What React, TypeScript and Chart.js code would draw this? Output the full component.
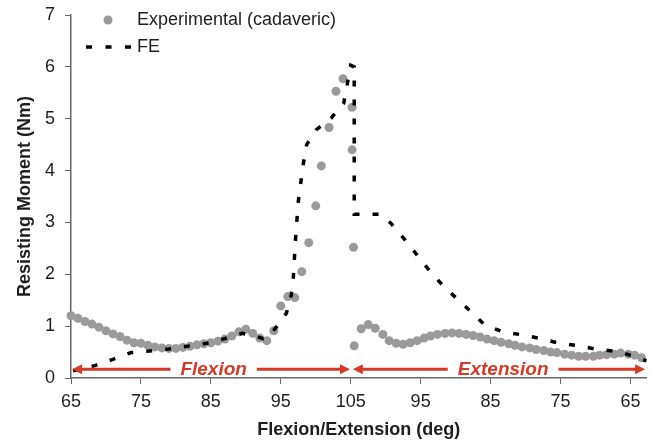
import React, { useEffect, useRef } from "react";
import { Chart, registerables } from "chart.js";

Chart.register(...registerables);

// x is a continuous path position: 0..40 = flexion 65->105 deg, 40..80 = extension 105->65 deg
const expX = [
  0, 1, 2, 3, 4, 5, 6, 7, 8, 9, 10, 11, 12, 13, 14, 15, 16, 17, 18, 19, 20,
  21, 22, 23, 24, 25, 26, 27, 28, 29, 30, 31, 32, 33, 34, 35, 35.8, 36.9, 37.9, 38.9,
  40.2, 40.2, 40.4, 40.5,
  41.5, 42.5, 43.5, 44.6, 45.5, 46.5, 47.5, 48.5, 49.5, 50.5, 51.4, 52.4, 53.5, 54.5,
  55.5, 56.5, 57.5, 58.5, 59.5, 60.5, 61.5, 62.6, 63.5, 64.5, 65.6, 66.5, 67.6, 68.6,
  69.5, 70.6, 71.6, 72.6, 73.6, 74.7, 75.6, 76.6, 77.7, 78.6, 79.7, 80.6, 81.6,
];
const expY = [
  1.2, 1.15, 1.09, 1.04, 0.98, 0.91, 0.85, 0.8, 0.73, 0.68, 0.67, 0.63, 0.6, 0.58, 0.57,
  0.57, 0.59, 0.61, 0.64, 0.66, 0.68, 0.71, 0.75, 0.81, 0.89, 0.94, 0.86, 0.77, 0.72,
  0.91, 1.39, 1.57, 1.55, 2.05, 2.61, 3.32, 4.09, 4.83, 5.53, 5.77,
  5.22, 4.4, 2.52, 0.62,
  0.95, 1.03, 0.96, 0.84, 0.72, 0.67, 0.65, 0.68, 0.72, 0.77, 0.81, 0.84, 0.86, 0.87,
  0.86, 0.84, 0.82, 0.79, 0.75, 0.72, 0.69, 0.66, 0.63, 0.6, 0.58, 0.55, 0.53, 0.5,
  0.49, 0.46, 0.44, 0.42, 0.42, 0.42, 0.44, 0.45, 0.46, 0.48, 0.46, 0.44, 0.39,
];

const feX = [
  0.3, 3.2, 6.0, 8.6, 11.2, 14, 17, 20, 23, 24.5, 26, 27.5, 28.3, 29.4, 30.8, 31.5,
  31.8, 32.1, 32.5, 33.2, 33.7, 35.1, 37.2, 39.0, 39.5, 40.0, 40.5, 40.5, 44.1, 45.7,
  47.8, 49.5, 51.2, 53.2, 55.1, 57.2, 59.2, 61.8, 64.6, 67.5, 69.8, 72.7, 75.3, 78.4, 82.3,
];
const feY = [
  0.14, 0.23, 0.36, 0.49, 0.52, 0.56, 0.62, 0.68, 0.8, 0.86, 0.82, 0.76, 0.8, 0.99, 1.25,
  1.6, 1.96, 2.66, 3.4, 4.11, 4.5, 4.79, 5.01, 5.3, 5.66, 6.03, 6.0, 3.16, 3.16, 2.99,
  2.66, 2.37, 2.08, 1.78, 1.54, 1.28, 1.02, 0.89, 0.83, 0.75, 0.67, 0.62, 0.55, 0.51, 0.33,
];

const xTickValues = [0, 10, 20, 30, 40, 50, 60, 70, 80];
const xTickLabels = ["65", "75", "85", "95", "105", "95", "85", "75", "65"];

const arrowNames = ["Flexion", "Extension"];
const arrowStart = [0.15, 40.3];
const arrowEnd = [39.9, 82.1];
const arrowTextX = [20.4, 61.8];
const arrowLevel = 0.17;

const FONT = "'Liberation Sans', Arial, Helvetica, sans-serif";
const RED = "#d63a27";
const GREY = "#9a9a9a";
const TEXT = "#1e1e1e";
const AXIS = "#666666";

const overlay = {
  id: "overlay",
  afterDatasetsDraw(chart: any) {
    const ctx = chart.ctx as CanvasRenderingContext2D;
    const xs = chart.scales.x;
    const ys = chart.scales.y;
    const ca = chart.chartArea;
    ctx.save();
    // direction arrows
    ctx.font = `italic bold 19px ${FONT}`;
    ctx.textAlign = "center";
    ctx.textBaseline = "middle";
    const y = ys.getPixelForValue(arrowLevel);
    for (let i = 0; i < arrowNames.length; i++) {
      const x0 = xs.getPixelForValue(arrowStart[i]);
      const x1 = xs.getPixelForValue(arrowEnd[i]);
      const xc = xs.getPixelForValue(arrowTextX[i]);
      const w = ctx.measureText(arrowNames[i]).width;
      const gap = 10;
      ctx.strokeStyle = RED;
      ctx.fillStyle = RED;
      ctx.lineWidth = 3;
      ctx.setLineDash([]);
      ctx.beginPath();
      ctx.moveTo(x0 + 8, y);
      ctx.lineTo(xc - w / 2 - gap, y);
      ctx.moveTo(xc + w / 2 + gap, y);
      ctx.lineTo(x1 - 8, y);
      ctx.stroke();
      ctx.beginPath();
      ctx.moveTo(x0, y);
      ctx.lineTo(x0 + 10, y - 5);
      ctx.lineTo(x0 + 10, y + 5);
      ctx.closePath();
      ctx.fill();
      ctx.beginPath();
      ctx.moveTo(x1, y);
      ctx.lineTo(x1 - 10, y - 5);
      ctx.lineTo(x1 - 10, y + 5);
      ctx.closePath();
      ctx.fill();
      ctx.fillText(arrowNames[i], xc, y + 1);
    }
    // legend
    const lx = ca.left;
    const ly = ca.top;
    ctx.fillStyle = GREY;
    ctx.beginPath();
    ctx.arc(lx + 37, ly + 5, 4.5, 0, Math.PI * 2);
    ctx.fill();
    ctx.strokeStyle = "#000";
    ctx.lineWidth = 3.5;
    ctx.setLineDash([6, 13.5]);
    ctx.beginPath();
    ctx.moveTo(lx + 15, ly + 32);
    ctx.lineTo(lx + 60, ly + 32);
    ctx.stroke();
    ctx.setLineDash([]);
    ctx.fillStyle = TEXT;
    ctx.font = `18px ${FONT}`;
    ctx.textAlign = "left";
    ctx.textBaseline = "middle";
    ctx.fillText("Experimental (cadaveric)", lx + 66, ly + 5);
    ctx.fillText("FE", lx + 66, ly + 32);
    ctx.restore();
  },
};

export default function App() {
  const ref = useRef<HTMLCanvasElement | null>(null);
  useEffect(() => {
    if (!ref.current) return;
    Chart.defaults.font.family = FONT;
    const chart = new Chart(ref.current, {
      type: "scatter",
      data: {
        datasets: [
          {
            label: "Experimental (cadaveric)",
            data: expX.map((x, i) => ({ x, y: expY[i] })),
            backgroundColor: GREY,
            borderColor: GREY,
            pointRadius: 4.5,
            pointBorderWidth: 0,
            showLine: false,
            order: 1,
          },
          {
            label: "FE",
            data: feX.map((x, i) => ({ x, y: feY[i] })),
            borderColor: "#000",
            borderWidth: 3.5,
            borderDash: [6, 13],
            pointRadius: 0,
            showLine: true,
            tension: 0,
            order: 0,
          } as any,
        ],
      },
      options: {
        animation: false,
        responsive: true,
        maintainAspectRatio: false,
        clip: false as any,
        layout: { padding: { top: 15, right: 0, left: 0, bottom: 0 } },
        plugins: {
          legend: { display: false },
          tooltip: { enabled: false },
        },
        scales: {
          x: {
            type: "linear",
            min: 0,
            max: 82.3,
            afterBuildTicks: (s: any) => {
              s.ticks = xTickValues.map((v) => ({ value: v }));
            },
            afterFit: (s: any) => {
              s.height = 65;
              s.paddingLeft = 0;
              s.paddingRight = 0;
            },
            ticks: {
              color: TEXT,
              font: { size: 18 },
              padding: 7,
              maxRotation: 0,
              autoSkip: false,
              callback: (v: any) => {
                const i = xTickValues.indexOf(Number(v));
                return i >= 0 ? xTickLabels[i] : "";
              },
            },
            grid: { drawOnChartArea: false, drawTicks: true, tickLength: 6, color: AXIS },
            border: { color: AXIS, width: 1.5 },
            title: {
              display: true,
              text: "Flexion/Extension (deg)",
              color: TEXT,
              font: { size: 18, weight: "bold" },
              padding: { top: 0, bottom: 2 },
            },
          },
          y: {
            type: "linear",
            min: 0,
            max: 7,
            ticks: {
              stepSize: 1,
              color: TEXT,
              font: { size: 18 },
              padding: 10,
            },
            afterFit: (s: any) => {
              s.width = 71;
              s.paddingTop = 0;
              s.paddingBottom = 0;
            },
            grid: { drawOnChartArea: false, drawTicks: true, tickLength: 6, color: AXIS },
            border: { color: AXIS, width: 1.5 },
            title: {
              display: true,
              text: "Resisting Moment (Nm)",
              color: TEXT,
              font: { size: 18, weight: "bold" },
              padding: { top: 14, bottom: 0 },
            },
          },
        },
      },
      plugins: [overlay],
    });
    return () => chart.destroy();
  }, []);
  return (
    <div style={{ position: "absolute", left: 0, top: 0, width: 651, height: 443, background: "#fff" }}>
      <canvas ref={ref} />
    </div>
  );
}
